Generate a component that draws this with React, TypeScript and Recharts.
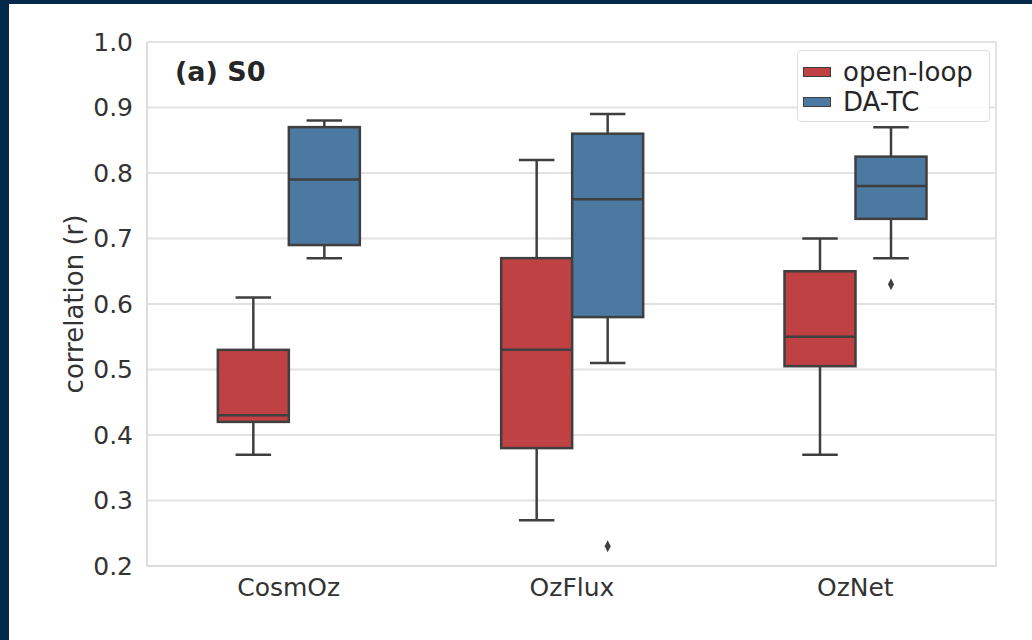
import React from 'react';
import {
  ComposedChart,
  Bar,
  XAxis,
  YAxis,
  CartesianGrid,
  Legend,
} from 'recharts';

if (typeof document !== 'undefined') document.body.style.margin = '0';

// box statistics: [whisker low, q1, median, q3, whisker high]
const categories = ['CosmOz', 'OzFlux', 'OzNet'];
const openLoopStats = [
  [0.37, 0.42, 0.43, 0.53, 0.61],
  [0.27, 0.38, 0.53, 0.67, 0.82],
  [0.37, 0.505, 0.55, 0.65, 0.70],
];
const daTcStats = [
  [0.67, 0.69, 0.79, 0.87, 0.88],
  [0.51, 0.58, 0.76, 0.86, 0.89],
  [0.67, 0.73, 0.78, 0.825, 0.87],
];
const openLoopOutliers = [[], [], []];
const daTcOutliers = [[], [0.23], [0.63]];
const yTicks = [0.2, 0.3, 0.4, 0.5, 0.6, 0.7, 0.8, 0.9, 1.0];

const RED = '#bf4144';
const BLUE = '#4b79a1';
const EDGE = '#3f3f3f';
const FONT = '"DejaVu Sans", sans-serif';

const data = categories.map((name, i) => ({
  name,
  ol: [openLoopStats[i][0], openLoopStats[i][4]],
  da: [daTcStats[i][0], daTcStats[i][4]],
  olStats: openLoopStats[i],
  daStats: daTcStats[i],
  olOut: openLoopOutliers[i],
  daOut: daTcOutliers[i],
}));

const renderBox = (props: any, key: 'ol' | 'da', color: string) => {
  const { x, y, width, height, payload } = props;
  const stats: number[] = payload[key + 'Stats'];
  const outs: number[] = payload[key + 'Out'];
  const top = Math.min(y, y + height);
  const bottom = Math.max(y, y + height);
  const [lo, q1, med, q3, hi] = stats;
  // linear map inside the whisker range that the bar scale gave us
  const py = (v: number) => top + ((hi - v) / (hi - lo)) * (bottom - top);
  const cx = x + width / 2;
  const cap = width * 0.25;
  return (
    <g>
      <line x1={cx} x2={cx} y1={py(hi)} y2={py(q3)} stroke={EDGE} strokeWidth={2.5} />
      <line x1={cx} x2={cx} y1={py(q1)} y2={py(lo)} stroke={EDGE} strokeWidth={2.5} />
      <line x1={cx - cap} x2={cx + cap} y1={py(hi)} y2={py(hi)} stroke={EDGE} strokeWidth={2.5} />
      <line x1={cx - cap} x2={cx + cap} y1={py(lo)} y2={py(lo)} stroke={EDGE} strokeWidth={2.5} />
      <rect x={x} y={py(q3)} width={width} height={py(q1) - py(q3)} fill={color} stroke={EDGE} strokeWidth={2.5} />
      <line x1={x} x2={x + width} y1={py(med)} y2={py(med)} stroke={EDGE} strokeWidth={2.5} />
      {outs.map((v, i) => (
        <path
          key={i}
          d={`M${cx},${py(v) - 6} L${cx + 3},${py(v)} L${cx},${py(v) + 6} L${cx - 3},${py(v)} Z`}
          fill={EDGE}
        />
      ))}
    </g>
  );
};

const legendItems = [
  { label: 'open-loop', color: RED },
  { label: 'DA-TC', color: BLUE },
];

const LegendBox = () => (
  <div
    style={{
      width: 193,
      height: 72,
      boxSizing: 'border-box',
      border: '1.5px solid #dedede',
      borderRadius: 4,
      background: 'rgba(255,255,255,0.85)',
      paddingTop: 6,
      fontFamily: FONT,
      fontSize: 26,
      color: '#262626',
    }}
  >
    {legendItems.map((it) => (
      <div key={it.label} style={{ height: 30, display: 'flex', alignItems: 'center' }}>
        <div
          style={{
            width: 28,
            height: 10,
            marginLeft: 5,
            marginRight: 12,
            background: it.color,
            border: `1px solid ${EDGE}`,
            boxSizing: 'border-box',
          }}
        />
        <span style={{ lineHeight: '30px' }}>{it.label}</span>
      </div>
    ))}
  </div>
);

export default function App() {
  return (
    <div style={{ position: 'relative', width: 1032, height: 640, background: '#032a4a', overflow: 'hidden' }}>
      <div style={{ position: 'absolute', left: 9, top: 4, width: 1023, height: 636, background: '#ffffff' }} />
      <div style={{ position: 'absolute', left: 0, top: 0 }}>
        <ComposedChart
          width={1032}
          height={640}
          data={data}
          margin={{ top: 42, right: 35, bottom: 0, left: 0 }}
          barCategoryGap="25%"
          barGap={0}
        >
          <CartesianGrid
            horizontal
            vertical
            verticalPoints={[996]}
            stroke="#e2e2e2"
            strokeWidth={2}
          />
          <XAxis
            dataKey="name"
            tickLine={false}
            axisLine={{ stroke: '#dcdcdc', strokeWidth: 2 }}
            tickSize={0}
            tickMargin={12}
            tick={{ fill: '#333', fontSize: 25, fontFamily: FONT }}
            height={74}
          />
          <YAxis
            domain={[0.2, 1.0]}
            ticks={yTicks}
            allowDataOverflow
            tickFormatter={(v: number) => v.toFixed(1)}
            tickLine={false}
            axisLine={{ stroke: '#dcdcdc', strokeWidth: 2 }}
            tickSize={0}
            tickMargin={14}
            tick={{ fill: '#333', fontSize: 25, fontFamily: FONT }}
            width={147}
            label={{
              value: 'correlation (r)',
              angle: -90,
              position: 'center',
              fill: '#333',
              fontSize: 26,
              fontFamily: FONT,
            }}
          />
          <Legend
            layout="vertical"
            align="center"
            verticalAlign="middle"
            content={() => <LegendBox />}
            wrapperStyle={{ position: 'absolute', top: 50, left: 797, width: 193 }}
          />
          <Bar
            dataKey="ol"
            name="open-loop"
            fill={RED}
            isAnimationActive={false}
            shape={(p: any) => renderBox(p, 'ol', RED)}
          />
          <Bar
            dataKey="da"
            name="DA-TC"
            fill={BLUE}
            isAnimationActive={false}
            shape={(p: any) => renderBox(p, 'da', BLUE)}
          />
        </ComposedChart>
      </div>
      <div
        style={{
          position: 'absolute',
          left: 175,
          top: 56,
          fontFamily: FONT,
          fontWeight: 'bold',
          fontSize: 27,
          color: '#262626',
          lineHeight: '32px',
        }}
      >
        (a) S0
      </div>
    </div>
  );
}
